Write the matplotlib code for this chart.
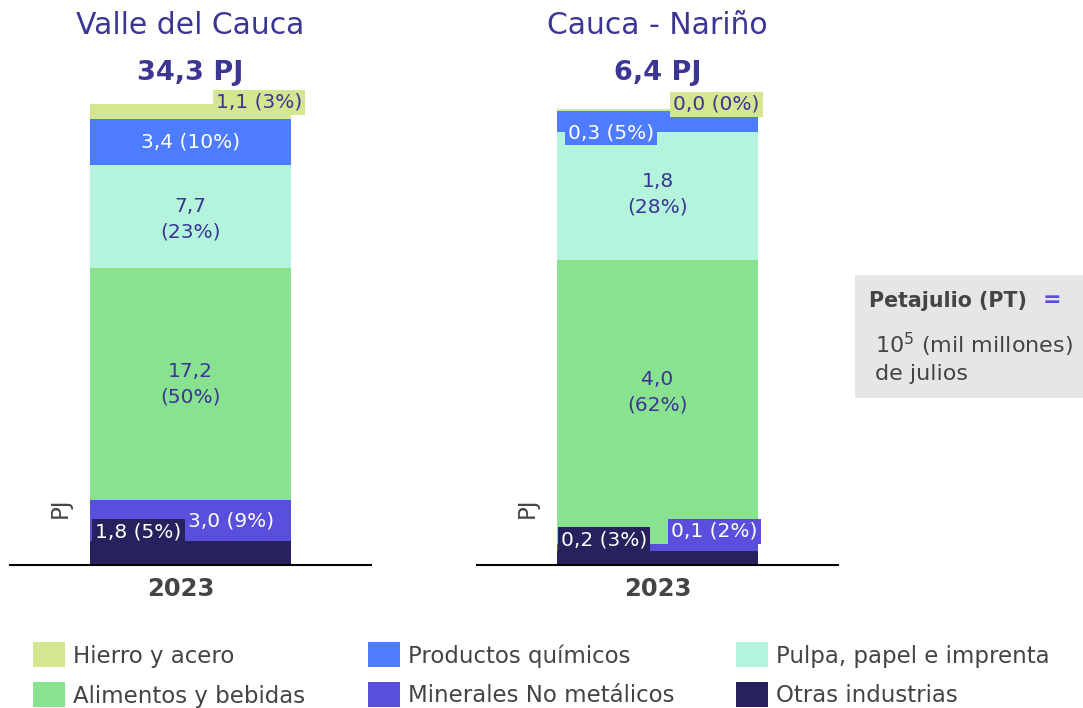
import matplotlib.pyplot as plt
from matplotlib.patches import Rectangle

plt.rcParams['font.family'] = ['DejaVu Sans']

# Datos (PJ), de abajo hacia arriba
categorias = ['Otras industrias', 'Minerales No metálicos', 'Alimentos y bebidas',
              'Pulpa, papel e imprenta', 'Productos químicos', 'Hierro y acero']
colores = ['#27215e', '#5a4fdc', '#88e28f', '#b4f4dd', '#4d7cfe', '#d4e68f']

valle = [1.8, 3.0, 17.2, 7.7, 3.4, 1.1]
cauca = [0.2, 0.1, 4.0, 1.8, 0.3, 0.03]
etiq_valle = ['1,8 (5%)', '3,0 (9%)', '17,2\n(50%)', '7,7\n(23%)', '3,4 (10%)', '1,1 (3%)']
etiq_cauca = ['0,2 (3%)', '0,1 (2%)', '4,0\n(62%)', '1,8\n(28%)', '0,3 (5%)', '0,0 (0%)']
totales = ['34,3 PJ', '6,4 PJ']
regiones = ['Valle del Cauca', 'Cauca - Nariño']

W, H = 1083, 708
morado = '#3b3594'
gris = '#444444'


def px(x, y):
    return x / W, 1 - y / H


fig = plt.figure(figsize=(W / 100, H / 100), dpi=100)

# posicion de etiquetas: (x en datos, desplazamiento vertical px, color texto, con caja)
estilo_valle = [(-0.144, 21, 'white', True), (0.112, 0, 'white', False),
                (0, 0, morado, False), (0, -3, morado, False),
                (0, 0, 'white', False), (0.19, 9, morado, True)]
estilo_cauca = [(-0.148, 18, 'white', True), (0.158, 16, 'white', True),
                (0, 10, morado, False), (0, 2, morado, False),
                (-0.129, -11, 'white', True), (0.163, 6, morado, True)]

ancho = 0.557
datos = [(valle, etiq_valle, estilo_valle, 10, 34.2, -0.027),
         (cauca, etiq_cauca, estilo_cauca, 477, 6.5, 0)]

for i, (vals, etiqs, estilos, x0, ymax, xtick) in enumerate(datos):
    ax = fig.add_axes([x0 / W, 1 - 565 / H, 361 / W, 461 / H])
    base = 0
    for v, c, t, (xt, dy, tc, caja) in zip(vals, colores, etiqs, estilos):
        ax.bar(0, v, width=ancho, bottom=base, color=c, zorder=2)
        bbox = dict(boxstyle='square,pad=0.15', fc=c, ec='none') if caja else None
        ax.annotate(t, xy=(xt, base + v / 2), xytext=(0, dy * 0.72),
                    textcoords='offset points', ha='center', va='center',
                    color=tc, fontsize=14.5, bbox=bbox, linespacing=1.45,
                    annotation_clip=False, zorder=3)
        base += v
    ax.set_xlim(-0.5, 0.5)
    ax.set_ylim(0, ymax)
    for s in ['top', 'right', 'left']:
        ax.spines[s].set_visible(False)
    ax.spines['bottom'].set_linewidth(1.5)
    ax.spines['bottom'].set_color('black')
    ax.spines['bottom'].set_zorder(4)
    ax.set_yticks([])
    ax.set_xticks([xtick], ['2023'])
    ax.tick_params(axis='x', length=0, pad=9, labelsize=17.5, labelcolor=gris)
    for lb in ax.get_xticklabels():
        lb.set_fontweight('bold')
    ax.patch.set_alpha(0)

    cx = x0 + 180.5
    fig.text(*px(cx, 26), regiones[i], ha='center', va='center',
             fontsize=21.5, color=morado)
    fig.text(*px(cx, 73), totales[i], ha='center', va='center',
             fontsize=19.5, color=morado, fontweight='bold')
    fig.text(*px(x0 + 50, 508), 'PJ', ha='center', va='center',
             rotation=90, fontsize=16.5, color=gris)

# Caja informativa
fig.patches.append(Rectangle(px(855, 398), 228 / W, 123 / H,
                             transform=fig.transFigure, fc='#e6e6e6', ec='none'))
fig.text(*px(869, 301), 'Petajulio (PT)', ha='left', va='center',
         fontsize=14.8, fontweight='bold', color=gris)
fig.text(*px(1043, 300), '=', ha='left', va='center',
         fontsize=16, fontweight='bold', color='#5a4fdc')
fig.text(*px(875, 345), '10$^5$ (mil millones)', ha='left', va='center',
         fontsize=16, color=gris)
fig.text(*px(875, 374), 'de julios', ha='left', va='center',
         fontsize=16, color=gris)

# Leyenda
orden_leyenda = [5, 4, 3, 2, 1, 0]
cols_x = [33, 368, 736]
filas_y = [655, 695]
for k, idx in enumerate(orden_leyenda):
    x = cols_x[k % 3]
    y = filas_y[k // 3]
    fig.patches.append(Rectangle(px(x, y + 12), 32 / W, 25 / H,
                                 transform=fig.transFigure,
                                 fc=colores[idx], ec='none'))
    fig.text(*px(x + 40, y + 1), categorias[idx], ha='left', va='center',
             fontsize=16.5, color=gris)

fig.savefig('out.png', dpi=100)
